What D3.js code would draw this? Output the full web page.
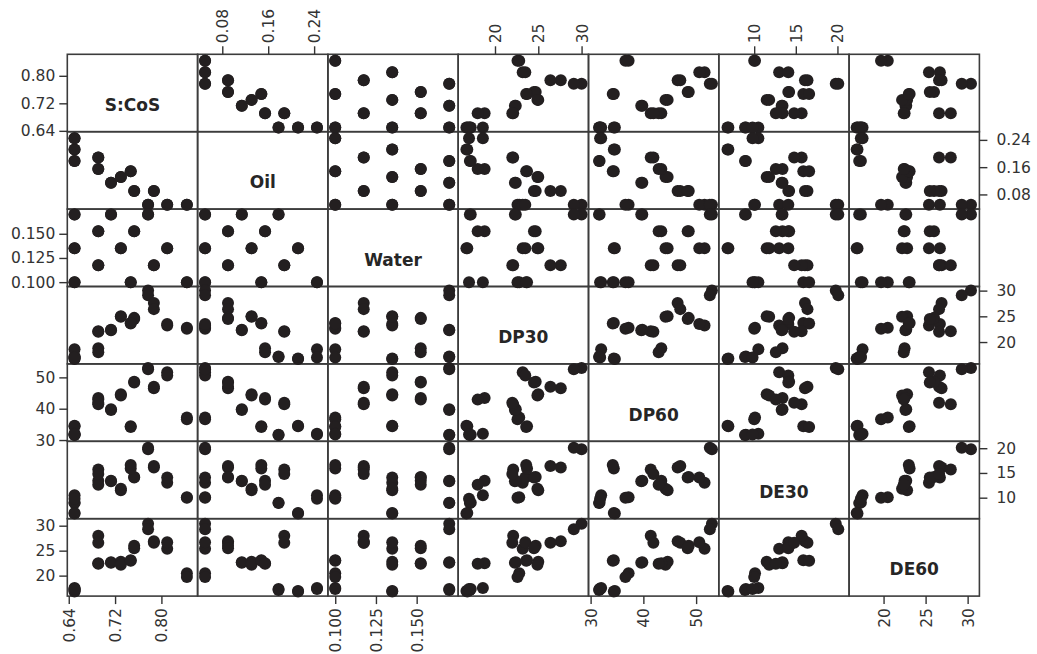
<!DOCTYPE html>
<html>
<head>
<meta charset="utf-8">
<script src="https://cdnjs.cloudflare.com/ajax/libs/d3/7.8.5/d3.min.js"></script>
<style>
  body { margin: 0; background: #fff; }
  svg { display: block; }
</style>
</head>
<body>
<svg id="chart" width="1037" height="654"></svg>
<script>
// variables of the matrix plot, in row/column order
var varNames = ['S:CoS', 'Oil', 'Water', 'DP30', 'DP60', 'DE30', 'DE60'];

// 13 mixture runs, each done twice (26 observations)
var sCoS  = [0.844, 0.844, 0.810, 0.810, 0.777, 0.777, 0.787, 0.787, 0.753, 0.753,
             0.713, 0.713, 0.730, 0.730, 0.747, 0.747, 0.691, 0.691, 0.691, 0.691,
             0.650, 0.650, 0.650, 0.650, 0.650, 0.650];
var oil   = [0.050, 0.050, 0.050, 0.050, 0.050, 0.050, 0.090, 0.090, 0.090, 0.090,
             0.114, 0.114, 0.131, 0.131, 0.148, 0.148, 0.1545, 0.1545, 0.188, 0.188,
             0.178, 0.178, 0.212, 0.212, 0.245, 0.245];
var water = [0.100, 0.100, 0.135, 0.135, 0.170, 0.170, 0.1175, 0.1175, 0.1525, 0.1525,
             0.170, 0.170, 0.135, 0.135, 0.100, 0.100, 0.1525, 0.1525, 0.1175, 0.1175,
             0.170, 0.170, 0.135, 0.135, 0.100, 0.100];
var dp30  = [22.8, 22.6, 23.2, 23.5, 30.0, 29.1, 27.6, 26.4, 24.7, 24.5,
             22.4, 22.3, 25.0, 24.9, 23.7, 23.6, 18.8, 18.0, 22.1, 22.0,
             17.2, 17.1, 16.7, 16.8, 18.6, 17.0];
var dp60  = [37.2, 36.6, 51.6, 50.6, 53.0, 52.6, 46.5, 47.0, 48.6, 48.4,
             39.8, 39.6, 44.6, 44.2, 34.4, 34.2, 43.4, 42.9, 41.4, 41.9,
             31.7, 31.6, 34.6, 34.4, 32.0, 31.8];
var de30  = [10.1, 10.0, 13.0, 14.1, 19.8, 20.1, 16.1, 16.4, 14.2, 14.1,
             13.4, 13.3, 11.5, 11.8, 15.9, 16.6, 13.4, 12.6, 15.7, 14.8,
             9.0, 8.9, 6.8, 6.9, 10.5, 9.8];
var de60  = [20.5, 19.7, 25.4, 26.7, 30.4, 29.3, 26.9, 26.6, 26.0, 25.5,
             22.7, 22.6, 22.8, 22.2, 23.1, 23.0, 22.5, 22.4, 28.0, 26.6,
             17.3, 17.1, 16.9, 16.8, 17.5, 17.3];

// axis ranges and tick labels per variable
var axisMin = [0.6375, 0.037, 0.0955, 15.75, 29.6, 5.75, 15.9];
var axisMax = [0.8625, 0.264, 0.1755, 30.8, 54.3, 21.4, 31.4];
var tickValues = [
    [0.64, 0.72, 0.80],
    [0.08, 0.16, 0.24],
    [0.100, 0.125, 0.150],
    [20, 25, 30],
    [30, 40, 50],
    [10, 15, 20],
    [20, 25, 30]
];
var tickFormats = ['.2f', '.2f', '.3f', 'd', 'd', 'd', 'd'];

var columns = [sCoS, oil, water, dp30, dp60, de30, de60];

var margin = { top: 54.3, left: 67.3 };
var cellW = 130.3;
var cellH = 77.4;
var n = varNames.length;
var font = '"DejaVu Sans", Verdana, sans-serif';

var svg = d3.select('#chart');

var xScales = varNames.map(function(d, j) {
    return d3.scaleLinear().domain([axisMin[j], axisMax[j]]).range([0, cellW]);
});
var yScales = varNames.map(function(d, i) {
    return d3.scaleLinear().domain([axisMin[i], axisMax[i]]).range([cellH, 0]);
});

var grid = svg.append('g')
    .attr('transform', 'translate(' + margin.left + ',' + margin.top + ')');

// Cell frames.
for(var i = 0; i < n; ++i) {
    for(var j = 0; j < n; ++j) {
        grid.append('rect')
            .attr('x', j * cellW)
            .attr('y', i * cellH)
            .attr('width', cellW)
            .attr('height', cellH)
            .attr('fill', 'none')
            .attr('stroke', '#3c3c3c')
            .attr('stroke-width', 1.6);
    }
}

// Diagonal labels.
varNames.forEach(function(name, k) {
    grid.append('text')
        .attr('x', k * cellW + cellW / 2)
        .attr('y', k * cellH + cellH / 2 + 12)
        .attr('text-anchor', 'middle')
        .attr('dominant-baseline', 'central')
        .attr('font-family', font)
        .attr('font-weight', 'bold')
        .attr('font-size', 17)
        .attr('fill', '#262626')
        .text(name);
});

// Points.
var rows = d3.range(sCoS.length);
for(var r = 0; r < n; ++r) {
    for(var c = 0; c < n; ++c) {
        if(r == c)
            continue;
        var cell = grid.append('g')
            .attr('transform', 'translate(' + (c * cellW) + ',' + (r * cellH) + ')');
        cell.selectAll('circle')
            .data(rows)
            .enter().append('circle')
            .attr('cx', function(k) { return xScales[c](columns[c][k]); })
            .attr('cy', function(k) { return yScales[r](columns[r][k]); })
            .attr('r', 6)
            .attr('fill', '#231f20');
    }
}

function styleAxis(g) {
    g.select('.domain').remove();
    g.selectAll('.tick line').attr('stroke', '#333').attr('stroke-width', 1.4);
    g.selectAll('.tick text')
        .attr('fill', '#333')
        .attr('font-family', font)
        .attr('font-size', 15.5);
}

// Column axes alternate bottom / top.
varNames.forEach(function(name, j) {
    var bottom = (j % 2 == 0);
    var axis = (bottom ? d3.axisBottom(xScales[j]) : d3.axisTop(xScales[j]))
        .tickValues(tickValues[j])
        .tickFormat(d3.format(tickFormats[j]))
        .tickSize(8)
        .tickSizeOuter(0);
    var g = grid.append('g')
        .attr('transform', 'translate(' + (j * cellW) + ',' + (bottom ? n * cellH : 0) + ')')
        .call(axis)
        .call(styleAxis);
    g.selectAll('.tick text')
        .attr('transform', 'rotate(-90)')
        .attr('text-anchor', bottom ? 'end' : 'start')
        .attr('x', bottom ? -12 : 11)
        .attr('y', 0)
        .attr('dy', '0.35em');
});

// Row axes alternate left / right.
varNames.forEach(function(name, i) {
    var leftSide = (i % 2 == 0);
    var axis = (leftSide ? d3.axisLeft(yScales[i]) : d3.axisRight(yScales[i]))
        .tickValues(tickValues[i])
        .tickFormat(d3.format(tickFormats[i]))
        .tickSize(8)
        .tickPadding(leftSide ? 4 : 9)
        .tickSizeOuter(0);
    grid.append('g')
        .attr('transform', 'translate(' + (leftSide ? 0 : n * cellW) + ',' + (i * cellH) + ')')
        .call(axis)
        .call(styleAxis);
});
</script>
</body>
</html>
